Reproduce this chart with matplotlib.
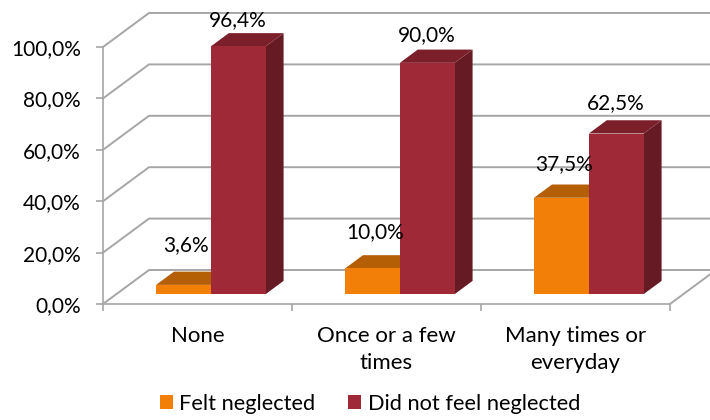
import matplotlib
matplotlib.use("Agg")
import matplotlib.pyplot as plt
from matplotlib.patches import Patch

plt.rcParams["font.family"] = ["Lato", "DejaVu Sans"]

categories = ["None", "Once or a few\ntimes", "Many times or\neveryday"]
felt = [3.6, 10.0, 37.5]
not_felt = [96.4, 90.0, 62.5]
felt_labels = ["3,6%", "10,0%", "37,5%"]
not_felt_labels = ["96,4%", "90,0%", "62,5%"]
y_ticks = [0, 20, 40, 60, 80, 100]
y_labels = ["0,0%", "20,0%", "40,0%", "60,0%", "80,0%", "100,0%"]

# 3d look: depth 0 is front of floor, depth 1 is the back wall
DX = 46 / 189
DY = 34 / 2.57
BAR_W = 0.29
D0 = 0.29
D1 = 0.68
GRID = "#a6a6a6"

# label offset above the bar front, in points
felt_up = [29, 26, 24]
not_felt_up = [19, 20, 22]


def proj(x, y, d):
    return x + d * DX, y + d * DY


def box(ax, x0, x1, h, front, top, side):
    pts = [proj(x1, 0, D0), proj(x1, 0, D1), proj(x1, h, D1), proj(x1, h, D0)]
    ax.fill(*zip(*pts), color=side, lw=0, zorder=3, clip_on=False)
    pts = [proj(x0, h, D0), proj(x1, h, D0), proj(x1, h, D1), proj(x0, h, D1)]
    ax.fill(*zip(*pts), color=top, lw=0, zorder=3, clip_on=False)
    pts = [proj(x0, 0, D0), proj(x1, 0, D0), proj(x1, h, D0), proj(x0, h, D0)]
    ax.fill(*zip(*pts), color=front, lw=0, zorder=3, clip_on=False)


fig = plt.figure(figsize=(7.1, 4.2), dpi=100)
ax = fig.add_axes([103 / 710, 116 / 420, 607 / 710, 257 / 420])
ax.set_xlim(0, 607 / 189)
ax.set_ylim(0, 100)
for name in ["top", "right"]:
    ax.spines[name].set_visible(False)
ax.spines["left"].set_color(GRID)
ax.spines["bottom"].set_color(GRID)
ax.spines["left"].set_linewidth(1.2)
ax.spines["bottom"].set_linewidth(1.2)
ax.spines["bottom"].set_bounds(0, 3)

# walls and floor
for v in y_ticks:
    xs, ys = zip(proj(0, v, 0), proj(0, v, 1), proj(3.3, v, 1))
    ax.plot(xs, ys, color=GRID, lw=1.4, clip_on=False, zorder=1)
xs, ys = zip(proj(3, 0, 0), proj(3, 0, 1))
ax.plot(xs, ys, color=GRID, lw=1.4, clip_on=False, zorder=1)

for i in range(3):
    c = i + 0.5
    box(ax, c - BAR_W, c, felt[i], "#f27f07", "#b45f06", "#8a4a05")
    box(ax, c, c + BAR_W, not_felt[i], "#9f2936", "#7b1f2b", "#661b24")

for i in range(3):
    c = i + 0.5
    ax.annotate(felt_labels[i], proj(c - BAR_W / 2, felt[i], D0), xytext=(2, felt_up[i]), textcoords="offset points",
                ha="center", va="center", fontsize=15, color="black", annotation_clip=False, zorder=5)
    ax.annotate(not_felt_labels[i], proj(c + BAR_W / 2, not_felt[i], D0), xytext=(0, not_felt_up[i]), textcoords="offset points",
                ha="center", va="center", fontsize=15, color="black", annotation_clip=False, zorder=5)

ax.set_yticks(y_ticks)
ax.set_yticklabels(y_labels, fontsize=15)
ax.set_xticks([0, 1, 2, 3])
ax.set_xticklabels([])
ax.set_xticks([0.5, 1.5, 2.5], minor=True)
ax.set_xticklabels(categories, minor=True, fontsize=16, linespacing=1.42)
ax.tick_params(axis="x", which="minor", length=0, pad=16)
ax.tick_params(axis="both", which="major", color=GRID, length=5, width=1.2)
ax.tick_params(axis="y", pad=11)

handles = [Patch(color="#f27f07", lw=0), Patch(color="#9f2936", lw=0)]
fig.legend(handles, ["Felt neglected", "Did not feel neglected"], loc="center", bbox_to_anchor=(370 / 710, 1 - 404 / 420),
           ncol=2, frameon=False, fontsize=15.7, handlelength=0.6, handleheight=0.6, handletextpad=0.3, columnspacing=1.5)

fig.savefig("out.png", dpi=100)
